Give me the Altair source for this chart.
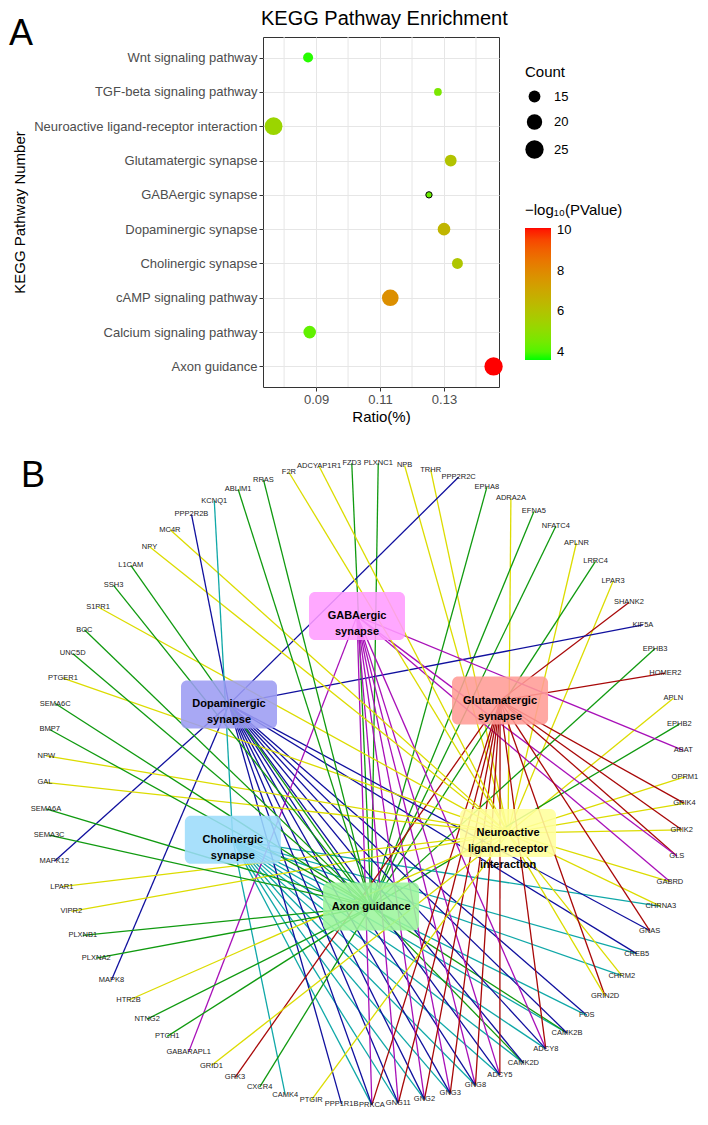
import math
import altair as alt
import pandas as pd

F = "Liberation Sans"

# ---------------- Panel A data ----------------
pathways = [
    "Wnt signaling pathway",
    "TGF-beta signaling pathway",
    "Neuroactive ligand-receptor interaction",
    "Glutamatergic synapse",
    "GABAergic synapse",
    "Dopaminergic synapse",
    "Cholinergic synapse",
    "cAMP signaling pathway",
    "Calcium signaling pathway",
    "Axon guidance",
]
ratio = [0.0875, 0.1281, 0.0767, 0.1321, 0.1253, 0.1300, 0.1342, 0.1132, 0.0880, 0.1455]
count = [13, 11, 24, 15, 10, 16, 14, 22, 16, 25]
neglog10_p = [3.7, 4.6, 5.3, 6.0, 4.3, 6.5, 5.9, 7.8, 4.2, 10.1]
ratio_ticks = [0.09, 0.11, 0.13]
ratio_minor = [0.08, 0.10, 0.12, 0.14]
count_breaks = [15, 20, 25]
p_breaks = [4, 6, 8, 10]

# ---------------- Panel B data ----------------
hub_keys = ["G", "D", "U", "N", "C", "X"]
hub_labels = [
    "GABAergic\nsynapse",
    "Dopaminergic\nsynapse",
    "Glutamatergic\nsynapse",
    "Neuroactive\nligand-receptor\ninteraction",
    "Cholinergic\nsynapse",
    "Axon guidance",
]
hub_fills = ["#ff9cff", "#9c9cf2", "#ff9c96", "#ffff9c", "#9cdcfa", "#9cf59c"]
hub_edge_colors = ["#a810b8", "#10109e", "#a80808", "#dcdc00", "#10a8a8", "#109a10"]

genes = [
    "FZD3", "PLXNC1", "NPB", "TRHR", "PPP2R2C", "EPHA8", "ADRA2A", "EFNA5", "NFATC4",
    "APLNR", "LRRC4", "LPAR3", "SHANK2", "KIF5A", "EPHB3", "HOMER2", "APLN", "EPHB2",
    "ABAT", "OPRM1", "GRIK4", "GRIK2", "GLS", "GABRD", "CHRNA3", "GNAS", "CREB5",
    "CHRM2", "GRIN2D", "FOS", "CAMK2B", "ADCY8", "CAMK2D", "ADCY5", "GNG8", "GNG3",
    "GNG2", "GNG11", "PRKCA", "PPP1R1B", "PTGIR", "CAMK4", "CXCR4", "GRK3", "GRID1",
    "GABARAPL1", "PTCH1", "NTNG2", "HTR2B", "MAPK8", "PLXNA2", "PLXNB1", "VIPR2",
    "LPAR1", "MAPK12", "SEMA3C", "SEMA6A", "GAL", "NPW", "BMP7", "SEMA6C", "PTGER1",
    "UNC5D", "BOC", "S1PR1", "SSH3", "L1CAM", "NPY", "MC4R", "PPP2R2B", "KCNQ1",
    "ABLIM1", "RRAS", "F2R", "ADCYAP1R1",
]
# pathway membership (G=GABAergic, D=Dopaminergic, U=Glutamatergic,
# N=Neuroactive, C=Cholinergic, X=Axon guidance)
gene_links = [
    "X", "X", "N", "N", "D", "X", "N", "X", "X",
    "N", "X", "N", "U", "D", "X", "U", "N", "X",
    "G", "N", "UN", "UN", "UG", "GN", "CN", "DU", "CD",
    "CN", "UN", "DC", "CXD", "GUCD", "CXD", "GUCD", "GUCD", "GUCD",
    "GUCD", "GUCD", "GUCD", "D", "N", "C", "X", "U", "N",
    "G", "X", "X", "N", "D", "X", "X", "N",
    "N", "D", "X", "X", "N", "N", "X", "X", "N",
    "X", "X", "N", "X", "X", "N", "N", "D", "C",
    "X", "X", "N", "N",
]

# ---------------- layout (positions only) ----------------
GENE_FONT = 7.5
RX, RY = 320.0, 321.0
TOP_M, BOT_M = 11.0, 5.0
X_LEFT = -102.0      # data x at panel-B origin (ring centre sits 102 px right of it)
PANEL_B_W = 430
hub_layout = {
    "G": (-0.025, 0.523),
    "D": (-0.425, 0.248),
    "U": (0.422, 0.260),
    "N": (0.447, -0.153),
    "C": (-0.413, -0.174),
    "X": (0.019, -0.382),
}
BOX_W, BOX_H = 96.0, 48.0

# circular layout with a simple label-collision widening of the angular gaps
n = len(genes)
uni = 2 * math.pi / n
R = (RX + RY) / 2


def est_w(s):
    return len(s) * 0.64 * GENE_FONT


gaps = []
for i in range(n):
    j = (i + 1) % n
    mid = i * uni
    a_need = (est_w(genes[i]) + est_w(genes[j])) / 2 + 2
    b_need = 10.0
    c, s = abs(math.cos(mid)), abs(math.sin(mid))
    req = min(a_need / c if c > 1e-6 else 1e9, b_need / s if s > 1e-6 else 1e9) / R
    gaps.append(max(uni, req))
k = 2 * math.pi / sum(gaps)
gaps = [g * k for g in gaps]
thetas = [-gaps[0] / 2]
for i in range(1, n):
    thetas.append(thetas[-1] + gaps[i - 1])
gpos = [(RX * math.sin(t), RY * math.cos(t)) for t in thetas]
hpos = {key: (RX * hub_layout[key][0], RY * hub_layout[key][1]) for key in hub_keys}

edge_rows = []
for i, g in enumerate(genes):
    for key in gene_links[i]:
        j = hub_keys.index(key)
        edge_rows.append({
            "gx": gpos[i][0], "gy": gpos[i][1],
            "hx": hpos[key][0], "hy": hpos[key][1],
            "col": hub_edge_colors[j],
        })
edges = pd.DataFrame(edge_rows)
gene_df = pd.DataFrame({"gene": genes, "x": [p[0] for p in gpos], "y": [p[1] for p in gpos]})
box_df = pd.DataFrame({
    "label": hub_labels,
    "fill": hub_fills,
    "cx": [hpos[key][0] for key in hub_keys],
    "cy": [hpos[key][1] for key in hub_keys],
})
box_df["x1"] = box_df["cx"] - BOX_W / 2
box_df["x2"] = box_df["cx"] + BOX_W / 2
box_df["y1"] = box_df["cy"] - BOX_H / 2
box_df["y2"] = box_df["cy"] + BOX_H / 2

# ---------------- Panel A ----------------
dfA = pd.DataFrame({"Pathway": pathways, "Ratio": ratio, "Count": count, "P": neglog10_p})
minor_df = pd.DataFrame({"Ratio": ratio_minor})

xA = alt.X(
    "Ratio:Q",
    scale=alt.Scale(domain=[0.0734, 0.1472], nice=False, zero=False),
    axis=alt.Axis(
        values=ratio_ticks, format=".2f", title="Ratio(%)", grid=True, gridColor="#e6e6e6",
        domain=False, tickColor="#333333", tickSize=4, labelFontSize=13, labelColor="#4d4d4d",
        labelFont=F, titleFont=F, titleFontSize=15, titleFontWeight="normal", titleColor="black",
        labelPadding=2, titlePadding=3,
    ),
)
yA = alt.Y(
    "Pathway:N",
    sort=pathways,
    scale=alt.Scale(type="point", padding=0.6),
    axis=alt.Axis(
        title="KEGG Pathway Number", grid=True, gridColor="#e6e6e6", domain=False,
        tickColor="#333333", tickSize=4, labelFontSize=13, labelColor="#4d4d4d",
        labelFont=F, titleFont=F, titleFontSize=15, titleFontWeight="normal",
        titleColor="black", labelPadding=2, labelLimit=400, titleX=-236, titleY=175,
    ),
)

minor_rules = alt.Chart(minor_df).mark_rule(color="#e6e6e6", strokeWidth=1).encode(x=xA)

points = alt.Chart(dfA).mark_circle(opacity=1, strokeWidth=1).encode(
    x=xA,
    y=yA,
    size=alt.Size(
        "Count:Q",
        scale=alt.Scale(domain=[15, 25], range=[139, 337]),
        legend=alt.Legend(
            title="Count", values=count_breaks, orient="none", legendX=262, legendY=28,
            titleFontSize=15, titleFontWeight="normal", titleColor="black", titleFont=F,
            labelFontSize=13, labelColor="black", labelFont=F, symbolFillColor="black",
            symbolStrokeWidth=0, symbolOpacity=1, symbolType="circle", rowPadding=10,
            titlePadding=10, labelOffset=10,
        ),
    ),
    color=alt.Color(
        "P:Q",
        scale=alt.Scale(domain=[3.6, 10.1], range=["#00ff00", "#ff0000"], interpolate="lab"),
        legend=alt.Legend(
            title="−log₁₀(PValue)", values=p_breaks, orient="none", legendX=262, legendY=166,
            gradientLength=132, gradientThickness=26, direction="vertical",
            titleFontSize=15, titleFontWeight="normal", titleColor="black", titleFont=F,
            labelFontSize=13, labelColor="black", labelFont=F, titlePadding=10,
            gradientStrokeWidth=0, labelOffset=6,
        ),
    ),
    stroke=alt.condition(
        alt.datum.Pathway == "GABAergic synapse", alt.value("black"), alt.value("transparent")
    ),
)

letterA = alt.Chart(pd.DataFrame({"t": ["A"]})).mark_text(
    fontSize=36, font=F, color="black", align="center", baseline="middle"
).encode(text="t:N", x=alt.value(-242), y=alt.value(-3))

titleA = alt.Chart(pd.DataFrame({"t": ["KEGG Pathway Enrichment"]})).mark_text(
    fontSize=20, font=F, color="black", align="left", baseline="alphabetic"
).encode(text="t:N", x=alt.value(-2), y=alt.value(-12))

panelA = alt.layer(minor_rules, points, letterA, titleA).properties(
    width=236,
    height=350,
    view=alt.ViewBackground(stroke="#333333", strokeWidth=1),
)

# ---------------- Panel B ----------------
xs = alt.Scale(domain=[X_LEFT, X_LEFT + PANEL_B_W], nice=False, zero=False)
ys = alt.Scale(domain=[-(RY + BOT_M), RY + TOP_M], nice=False, zero=False)

edge_layer = alt.Chart(edges).mark_rule(strokeWidth=1.3).encode(
    x=alt.X("gx:Q", scale=xs, axis=None),
    y=alt.Y("gy:Q", scale=ys, axis=None),
    x2="hx:Q",
    y2="hy:Q",
    color=alt.Color("col:N", scale=None),
)
box_layer = alt.Chart(box_df).mark_rect(cornerRadius=6, opacity=0.88).encode(
    x=alt.X("x1:Q", scale=xs, axis=None),
    x2="x2:Q",
    y=alt.Y("y1:Q", scale=ys, axis=None),
    y2="y2:Q",
    fill=alt.Fill("fill:N", scale=None),
)
box_text = alt.Chart(box_df).mark_text(
    fontSize=11, fontWeight="bold", font=F, color="black", lineBreak="\n",
    align="center", baseline="middle", lineHeight=16,
).encode(
    x=alt.X("cx:Q", scale=xs, axis=None),
    y=alt.Y("cy:Q", scale=ys, axis=None),
    text="label:N",
)
gene_text = alt.Chart(gene_df).mark_text(
    fontSize=GENE_FONT, font=F, color="#222222", align="center", baseline="middle"
).encode(
    x=alt.X("x:Q", scale=xs, axis=None),
    y=alt.Y("y:Q", scale=ys, axis=None),
    text="gene:N",
)
letterB = alt.Chart(pd.DataFrame({"t": ["B"]})).mark_text(
    fontSize=36, font=F, color="black", align="center", baseline="middle"
).encode(text="t:N", x=alt.value(-230), y=alt.value(24))

panelB = alt.layer(edge_layer, box_layer, box_text, gene_text, letterB).properties(
    width=PANEL_B_W, height=int(round(2 * RY + TOP_M + BOT_M)),
    view=alt.ViewBackground(strokeWidth=0),
)

chart = (
    alt.vconcat(panelA, panelB, spacing=27)
    .resolve_scale(x="independent", y="independent", color="independent", size="independent")
    .resolve_legend(color="independent", size="independent")
    .properties(padding=0, background="white")
)

chart.save("out.html", embed_options={"renderer": "svg", "actions": False})
